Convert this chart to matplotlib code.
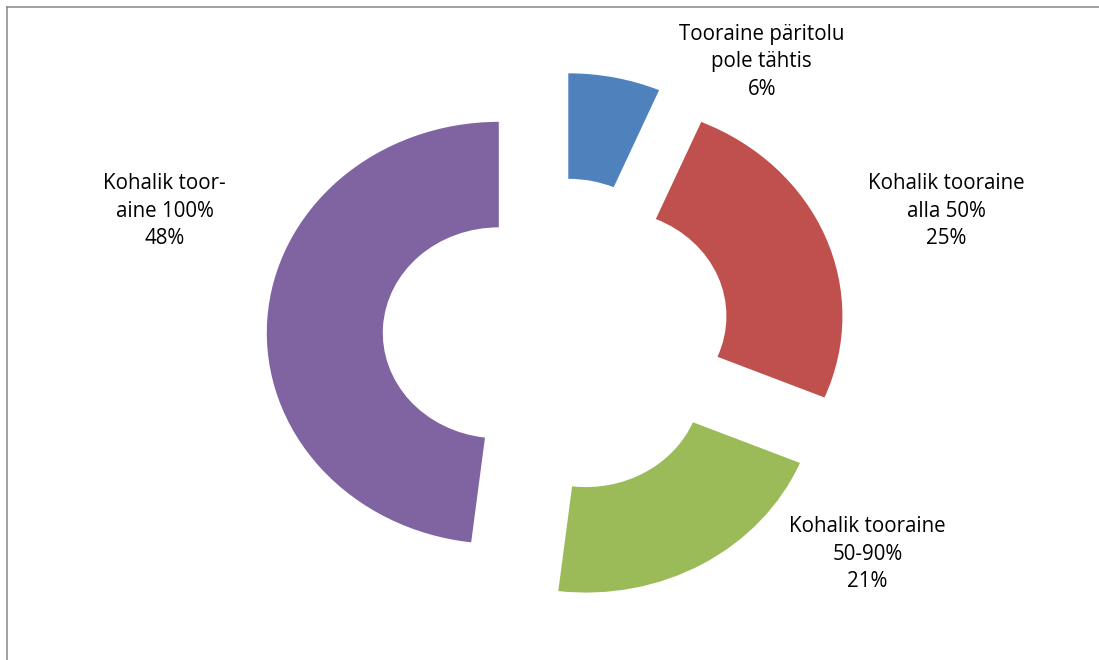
import matplotlib
matplotlib.use('Agg')
import matplotlib.pyplot as plt
from matplotlib.lines import Line2D

# data: share of raw material origin (clockwise from top)
categories = ['Tooraine päritolu\npole tähtis', 'Kohalik tooraine\nalla 50%',
              'Kohalik tooraine\n50-90%', 'Kohalik toor-\naine 100%']
shares = [6.4, 24.9, 20.6, 48.1]
colors = ['#4F81BD', '#C0504D', '#9BBB59', '#8064A2']

W, H = 1099, 660
CX, CY = 556.7, 336.0     # pie centre, px
RX, RY = 232.0, 211.0     # outer radius, px (Excel stretches it a bit)
# label anchor: centre x, baseline of last line (px)
LABEL_POS = [(761.7, 95.0), (946.0, 244.5), (867.5, 587.3), (164.7, 244.5)]

plt.rcParams['font.family'] = ['Open Sans', 'DejaVu Sans']

fig = plt.figure(figsize=(W / 100, H / 100), dpi=100)
ax = fig.add_axes([0, 0, 1, 1])

ax.pie(shares, colors=colors, startangle=90, counterclock=False,
       explode=[0.25] * len(shares), radius=1.0,
       wedgeprops=dict(width=0.5, edgecolor='none', linewidth=0))
ax.set_aspect('auto')
ax.set_xlim(-CX / RX, (W - CX) / RX)
ax.set_ylim((CY - H) / RY, CY / RY)
ax.axis('off')

for name, v, (px, py) in zip(categories, shares, LABEL_POS):
    fig.text(px / W, 1 - py / H, f'{name}\n{round(v)}%', ha='center',
             va='baseline', multialignment='center', fontsize=14.8,
             linespacing=1.42, color='black')

# chart area border (only left and top visible in the crop)
bx, by = 7.0 / W, 1 - 7.0 / H
fig.add_artist(Line2D([bx, bx], [0, by], transform=fig.transFigure,
                      color='#868686', lw=1.1))
fig.add_artist(Line2D([bx, 1], [by, by], transform=fig.transFigure,
                      color='#868686', lw=1.1))

fig.savefig('out.png', dpi=100)
